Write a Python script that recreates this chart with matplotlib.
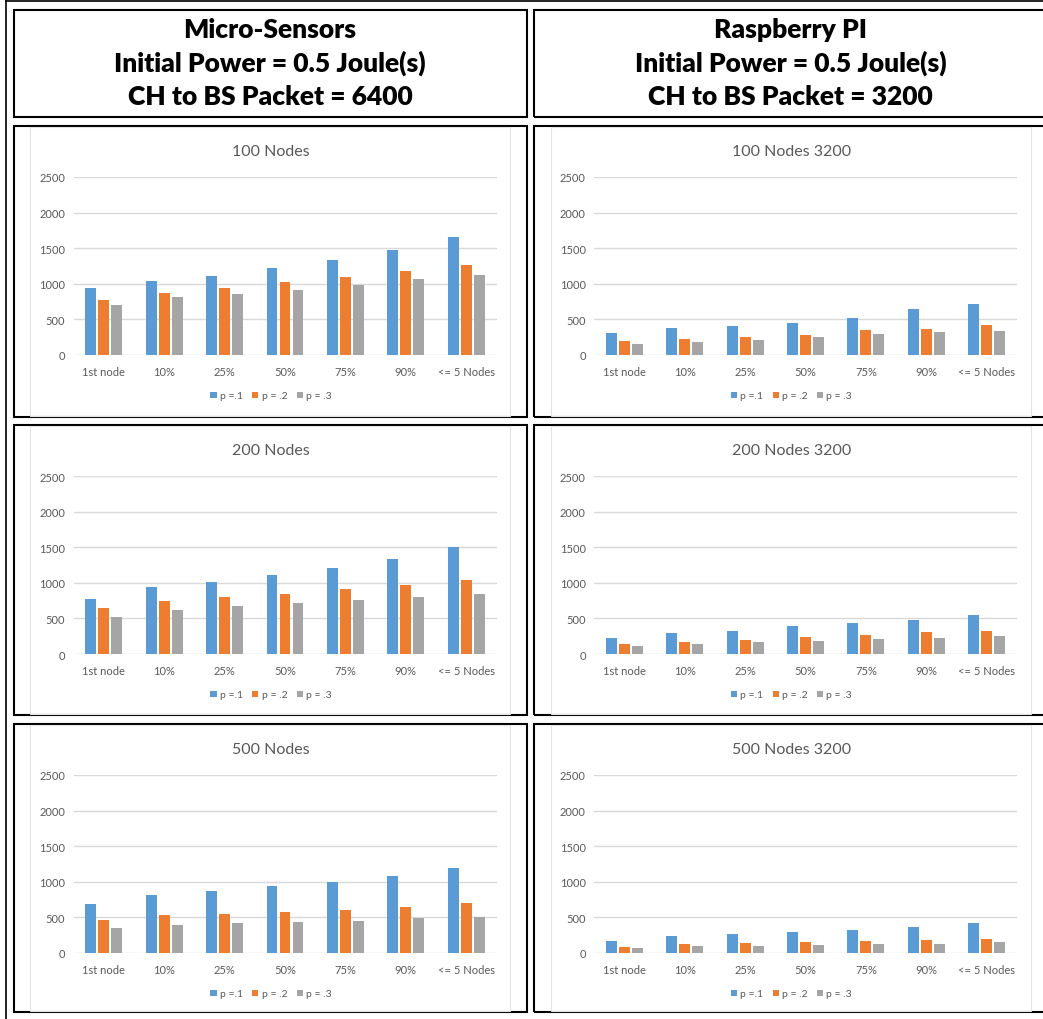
import matplotlib
matplotlib.use("Agg")
import matplotlib.pyplot as plt
from matplotlib.patches import Rectangle
from matplotlib.lines import Line2D
import numpy as np

# categories and series shared by all six charts
categories = ['1st node', '10%', '25%', '50%', '75%', '90%', '<= 5 Nodes']
series_labels = ['p =.1', 'p = .2', 'p = .3']
series_colors = ['#5B9BD5', '#ED7D31', '#A5A5A5']

# Micro-Sensors, CH to BS packet = 6400
ms_100_p1 = [935, 1043, 1114, 1217, 1330, 1476, 1659]
ms_100_p2 = [771, 865, 935, 1024, 1100, 1175, 1264]
ms_100_p3 = [700, 808, 855, 907, 982, 1062, 1128]

ms_200_p1 = [778, 948, 1014, 1113, 1203, 1330, 1500]
ms_200_p2 = [642, 745, 797, 849, 915, 972, 1033]
ms_200_p3 = [524, 623, 670, 712, 759, 807, 849]

ms_500_p1 = [689, 811, 873, 939, 995, 1080, 1193]
ms_500_p2 = [467, 528, 547, 580, 608, 646, 703]
ms_500_p3 = [354, 396, 415, 439, 453, 486, 509]

# Raspberry PI, CH to BS packet = 3200
rp_100_p1 = [310, 381, 409, 456, 526, 653, 714]
rp_100_p2 = [193, 221, 258, 282, 348, 362, 418]
rp_100_p3 = [155, 183, 211, 258, 291, 329, 338]

rp_200_p1 = [222, 292, 330, 387, 439, 476, 542]
rp_200_p2 = [142, 175, 203, 241, 269, 307, 330]
rp_200_p3 = [118, 146, 165, 184, 212, 231, 255]

rp_500_p1 = [175, 236, 264, 292, 330, 363, 420]
rp_500_p2 = [90, 127, 137, 156, 175, 184, 198]
rp_500_p3 = [71, 94, 104, 113, 123, 132, 151]

headers = [
    ['Micro-Sensors', 'Initial Power = 0.5 Joule(s)', 'CH to BS Packet = 6400'],
    ['Raspberry PI', 'Initial Power = 0.5 Joule(s)', 'CH to BS Packet = 3200'],
]
charts = [
    [('100 Nodes', [ms_100_p1, ms_100_p2, ms_100_p3]),
     ('100 Nodes 3200', [rp_100_p1, rp_100_p2, rp_100_p3])],
    [('200 Nodes', [ms_200_p1, ms_200_p2, ms_200_p3]),
     ('200 Nodes 3200', [rp_200_p1, rp_200_p2, rp_200_p3])],
    [('500 Nodes', [ms_500_p1, ms_500_p2, ms_500_p3]),
     ('500 Nodes 3200', [rp_500_p1, rp_500_p2, rp_500_p3])],
]

W, H = 1043, 1020
fig = plt.figure(figsize=(W / 100, H / 100), dpi=100)
fig.patch.set_facecolor('white')


def fx(x):
    return x / W


def fy(y):
    return 1 - y / H


def box(x0, y0, x1, y1, color='black', lw=1.5):
    fig.patches.append(Rectangle((fx(x0), fy(y1)), fx(x1) - fx(x0), fy(y0) - fy(y1),
                                 transform=fig.transFigure, fill=False,
                                 edgecolor=color, linewidth=lw, clip_on=False))


# table layout in pixels
col_x = [(13.5, 526.5), (534, 1048)]
header_y = (10.5, 118)
row_y = [(127, 418), (426, 716), (725, 1013)]

# outer frame (left and top edges only)
fig.lines.append(Line2D([fx(5.5), fx(5.5)], [fy(1.5), fy(H + 5)],
                        transform=fig.transFigure, color='black', lw=1.2))
fig.lines.append(Line2D([fx(5.5), fx(W + 5)], [fy(1.5), fy(1.5)],
                        transform=fig.transFigure, color='black', lw=1.2))

head_font = dict(family=['Lato', 'DejaVu Sans'], fontweight='heavy', fontsize=19)
for c, (x0, x1) in enumerate(col_x):
    box(x0, header_y[0], x1, header_y[1])
    cx = (13.5 + 526.5) / 2 + (x0 - 13.5)
    for i, line in enumerate(headers[c]):
        fig.text(fx(cx), fy(30 + 33.5 * i), line, ha='center', va='center',
                 color='black', **head_font)

x = np.arange(len(categories))
bar_w = 0.18
pitch = 0.215
txt = '#595959'
grid = '#D9D9D9'
chart_font = ['Lato', 'DejaVu Sans']

for r, (y0, y1) in enumerate(row_y):
    for c, (x0, x1) in enumerate(col_x):
        box(x0, y0, x1, y1)
        # chart area frame
        box(x0 + 16.5, y0 + 1, x0 + 496.5, y1 - 1, color='#E3E3E3', lw=0.8)
        title, series = charts[r][c]
        fig.text(fx(x0 + 257.5), fy(y0 + 25), title, ha='center', va='center',
                 color=txt, fontsize=11.5, family=chart_font)

        ax = fig.add_axes([fx(x0 + 60), fy(y0 + 229), fx(423), 178 / H])
        for k, vals in enumerate(series):
            ax.bar(x + (k - 1) * pitch, vals, width=bar_w, color=series_colors[k],
                   label=series_labels[k], zorder=3)
        ax.set_xlim(-0.5, len(categories) - 0.5)
        ax.set_ylim(0, 2500)
        ax.set_yticks(np.arange(0, 2501, 500))
        ax.set_xticks(x)
        ax.set_xticklabels(categories)
        ax.grid(axis='y', color=grid, lw=1, zorder=0)
        for s in ax.spines.values():
            s.set_visible(False)
        ax.tick_params(axis='both', length=0, colors=txt, labelsize=8)
        ax.tick_params(axis='y', pad=6)
        ax.tick_params(axis='x', pad=8)
        for lab in ax.get_xticklabels() + ax.get_yticklabels():
            lab.set_family(chart_font)
        leg = ax.legend(loc='center', bbox_to_anchor=(fx(x0 + 257.5), fy(y0 + 270)),
                        bbox_transform=fig.transFigure, ncol=3, frameon=False,
                        handlelength=0.6, handleheight=0.6,
                        handletextpad=0.3, columnspacing=0.9,
                        prop={'family': chart_font, 'size': 7.5})
        for t in leg.get_texts():
            t.set_color(txt)

fig.savefig('out.png', dpi=100, facecolor='white')
